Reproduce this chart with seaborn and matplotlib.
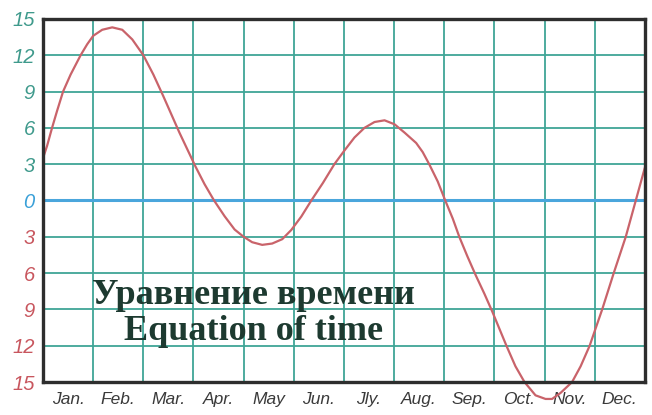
import numpy as np
import pandas as pd
import matplotlib
matplotlib.use("Agg")
import matplotlib.pyplot as plt
import seaborn as sns

# 数据准备 (月份位置, 分钟)
month = [0.00, 0.08, 0.18, 0.28, 0.40, 0.55, 0.75, 0.88, 1.00, 1.18, 1.38, 1.58,
         1.78, 2.00, 2.20, 2.40, 2.56, 2.72, 2.88, 3.04, 3.22, 3.41, 3.62, 3.82,
         4.00, 4.17, 4.37, 4.57, 4.77, 4.95, 5.15, 5.35, 5.58, 5.81, 6.00, 6.21,
         6.41, 6.61, 6.81, 7.01, 7.21, 7.44, 7.57, 7.70, 7.87, 8.02, 8.17, 8.30,
         8.46, 8.63, 8.80, 8.96, 9.10, 9.24, 9.42, 9.60, 9.82, 10.02, 10.15, 10.32,
         10.55, 10.72, 10.90, 11.15, 11.38, 11.62, 11.82, 12.00]
minutes = [3.5, 4.5, 6.0, 7.4, 9.0, 10.4, 12.0, 12.9, 13.6, 14.1, 14.3, 14.1,
           13.3, 12.0, 10.4, 8.6, 7.1, 5.6, 4.2, 2.8, 1.35, 0.0, -1.3, -2.4,
           -3.0, -3.45, -3.67, -3.56, -3.2, -2.44, -1.33, 0.0, 1.44, 3.0, 4.07, 5.2,
           6.0, 6.48, 6.62, 6.29, 5.6, 4.75, 4.0, 3.0, 1.57, 0.0, -1.5, -3.0,
           -4.6, -6.2, -7.7, -9.2, -10.6, -12.0, -13.7, -15.0, -16.1, -16.4, -16.4, -15.9,
           -15.0, -13.7, -12.0, -9.0, -6.0, -3.0, 0.0, 2.7]
month_labels = ["Jan.", "Feb.", "Mar.", "Apr.", "May", "Jun.",
                "Jly.", "Aug.", "Sep.", "Oct.", "Nov.", "Dec."]
y_ticks = [15, 12, 9, 6, 3, 0, -3, -6, -9, -12, -15]

df = pd.DataFrame({"month": month, "minutes": minutes})

sns.set_style("white")
fig = plt.figure(figsize=(6.52, 4.15), dpi=100)
ax = fig.add_axes([0.066, 0.0795, 0.923, 0.875])

grid_c = "#3fa596"
for m in range(1, 12):
    ax.axvline(m, color=grid_c, lw=1.3, zorder=1)
for v in y_ticks[1:-1]:
    if v != 0:
        ax.axhline(v, color=grid_c, lw=1.3, zorder=1)
ax.axhline(0, color="#4aa6dc", lw=2.2, zorder=1)

sns.lineplot(data=df, x="month", y="minutes", sort=False, color="#c9636a",
             lw=1.6, clip_on=False, ax=ax, zorder=3)

ax.set_xlim(0, 12)
ax.set_ylim(-15, 15)
ax.set_xlabel("")
ax.set_ylabel("")

ax.set_xticks(np.arange(12) + 0.5)
ax.set_xticklabels(month_labels, fontsize=12.5, style="italic",
                   color="#3a3a3a", family="Liberation Sans")
ax.set_yticks(y_ticks)
ax.set_yticklabels([str(abs(v)) for v in y_ticks], fontsize=14.5, style="italic",
                   family="Liberation Sans")
for lab, v in zip(ax.get_yticklabels(), y_ticks):
    if v > 0:
        lab.set_color("#3f9a8c")
    elif v == 0:
        lab.set_color("#3aa0d8")
    else:
        lab.set_color("#c8565e")
ax.tick_params(axis="both", length=0)
ax.tick_params(axis="y", pad=6)
ax.tick_params(axis="x", pad=7)

for s in ax.spines.values():
    s.set_color("#2e2e2e")
    s.set_linewidth(2.4)
    s.set_zorder(4)

ax.text(4.2, -9.35, "Уравнение времени\nEquation of time", ha="center", va="center",
        fontsize=26, fontweight="bold", family="Liberation Serif",
        color="#1d3a30", linespacing=1.12, zorder=5)

fig.savefig("out.png", dpi=100)
